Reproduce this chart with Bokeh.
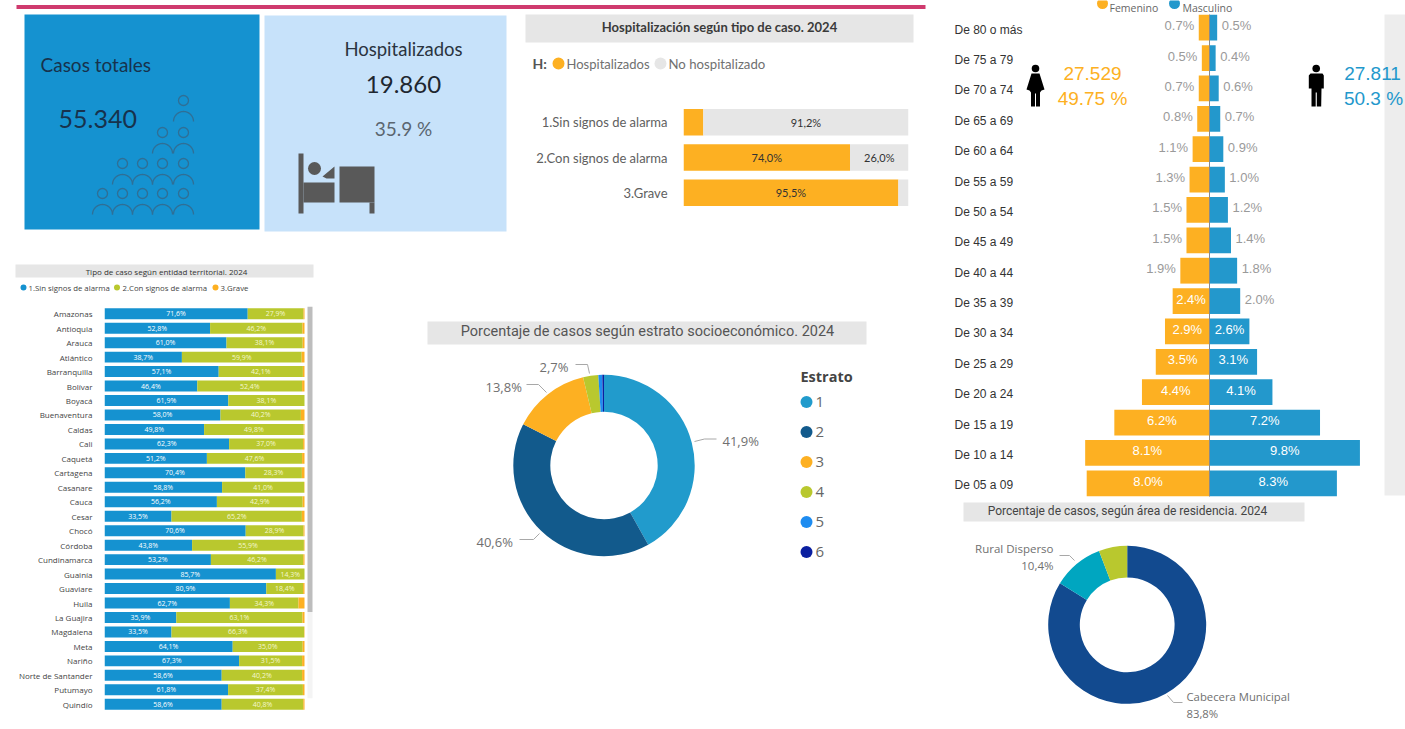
import numpy as np
from bokeh.plotting import figure
from bokeh.layouts import row, column
from bokeh.models import Range1d, FactorRange
from bokeh.core.properties import value
from bokeh.embed import file_html
from bokeh.resources import INLINE

# ---------- data ----------
hosp_cats = ["1.Sin signos de alarma", "2.Con signos de alarma", "3.Grave"]
hosp_yes = [8.8, 74.0, 95.5]
hosp_no = [91.2, 26.0, 4.5]
hosp_yes_lab = ["", "74,0%", "95,5%"]
hosp_no_lab = ["91,2%", "26,0%", ""]

states = ["Amazonas", "Antioquia", "Arauca", "Atlántico", "Barranquilla", "Bolívar", "Boyacá", "Buenaventura",
          "Caldas", "Cali", "Caquetá", "Cartagena", "Casanare", "Cauca", "Cesar", "Chocó", "Córdoba", "Cundinamarca",
          "Guainía", "Guaviare", "Huila", "La Guajira", "Magdalena", "Meta", "Nariño", "Norte de Santander",
          "Putumayo", "Quindío"]
st_sin = [71.6, 52.8, 61.0, 38.7, 57.1, 46.4, 61.9, 58.0, 49.8, 62.3, 51.2, 70.4, 58.8, 56.2, 33.5, 70.6, 43.8, 53.2,
          85.7, 80.9, 62.7, 35.9, 33.5, 64.1, 67.3, 58.6, 61.8, 58.6]
st_con = [27.9, 46.2, 38.1, 59.9, 42.1, 52.4, 38.1, 40.2, 49.8, 37.0, 47.6, 28.3, 41.0, 42.9, 65.2, 28.9, 55.9, 46.2,
          14.3, 18.4, 34.3, 63.1, 66.3, 35.0, 31.5, 40.2, 37.4, 40.8]
st_gra = [0.5, 1.0, 0.9, 1.4, 0.8, 1.2, 0.0, 1.8, 0.4, 0.7, 1.2, 1.3, 0.2, 0.9, 1.3, 0.5, 0.3, 0.6,
          0.0, 0.7, 3.0, 1.0, 0.2, 0.9, 1.2, 1.2, 0.8, 0.6]

estrato_names = ["1", "2", "3", "4", "5", "6"]
estrato_vals = [41.9, 40.6, 13.8, 2.7, 0.7, 0.3]
area_names = ["Cabecera Municipal", "Rural Disperso", "Otro"]
area_vals = [83.8, 10.4, 5.8]

ages = ["De 80 o más", "De 75 a 79", "De 70 a 74", "De 65 a 69", "De 60 a 64", "De 55 a 59", "De 50 a 54", "De 45 a 49",
        "De 40 a 44", "De 35 a 39", "De 30 a 34", "De 25 a 29", "De 20 a 24", "De 15 a 19", "De 10 a 14", "De 05 a 09"]
fem = [0.7, 0.5, 0.7, 0.8, 1.1, 1.3, 1.5, 1.5, 1.9, 2.4, 2.9, 3.5, 4.4, 6.2, 8.1, 8.0]
mas = [0.5, 0.4, 0.6, 0.7, 0.9, 1.0, 1.2, 1.4, 1.8, 2.0, 2.6, 3.1, 4.1, 7.2, 9.8, 8.3]

# ---------- style ----------
ORANGE = "#FDB022"; BLUE = "#1592D0"; LBLUE = "#C7E2FA"; GREEN = "#B9C82E"; GRAY = "#E6E6E6"
PINK = "#CF3A6E"; PYBLUE = "#2398CC"
DIN = "Lato"
OS = "Open Sans"
AR = "Liberation Sans"


def canvas(x0, y0, x1, y1):
    p = figure(width=x1 - x0, height=y1 - y0, x_range=Range1d(x0, x1), y_range=Range1d(y1, y0),
               x_axis_location=None, y_axis_location=None, output_backend="svg", toolbar_location=None,
               min_border=0, outline_line_color=None)
    p.grid.visible = False
    return p


def txt(p, x, y, s, size, color="#555555", font=DIN, align="left", style="normal", **kw):
    p.text(x=[x], y=[y], text=[s], text_font=value(font), text_font_size=f"{size}px", text_color=color,
           text_align=align, text_baseline="middle", text_font_style=style, **kw)


def box(p, l, t, r, b, color, **kw):
    p.quad(left=[l], right=[r], top=[t], bottom=[b], fill_color=color, line_color=None, **kw)


def dot(p, x, y, r, color):
    p.circle(x=[x], y=[y], radius=r, fill_color=color, line_color=None)


def donut(p, cx, cy, R, inner, vals, colors):
    x0, x1 = p.x_range.start, p.x_range.end
    y_top, y_bot = p.y_range.end, p.y_range.start
    p.extra_x_ranges["d"] = Range1d((x0 - cx) / R, (x1 - cx) / R)
    p.extra_y_ranges["d"] = Range1d((cy - y_bot) / R, (cy - y_top) / R)
    cum = np.concatenate([[0], np.cumsum(vals)]) / sum(vals) * 2 * np.pi
    p.annular_wedge(x=0, y=0, inner_radius=inner, outer_radius=1, start_angle=np.pi / 2 - cum[:-1],
                    end_angle=np.pi / 2 - cum[1:], direction="clock", fill_color=colors, line_color=None,
                    x_range_name="d", y_range_name="d")


# ---------- top band ----------
band = canvas(0, 0, 930, 9)
box(band, 16, 1.5, 925, 7, PINK)

# ---------- KPI cards ----------
kpi = canvas(0, 9, 516, 235)
box(kpi, 24, 14, 259, 229, BLUE)
box(kpi, 264, 15, 506, 231, LBLUE)
txt(kpi, 40, 64, "Casos totales", 19, "#17324D")
txt(kpi, 58, 118, "55.340", 25, "#17324D")
txt(kpi, 403, 48, "Hospitalizados", 18.5, "#2A3440", align="center")
txt(kpi, 403, 84, "19.860", 24, "#1E2730", align="center")
txt(kpi, 403, 128, "35.9 %", 19, "#5B6670", align="center")
people = [(183, 100), (162, 132), (183, 132), (122, 163), (142, 163), (162, 163), (183, 163),
          (102, 193), (122, 193), (142, 193), (162, 193), (183, 193)]
t = np.linspace(0, np.pi, 24)
for hx, hy in people:
    kpi.circle(x=[hx], y=[hy], radius=5, fill_color=None, line_color="#2F6F96", line_width=1.3)
    kpi.line(hx + 10 * np.cos(t), hy + 21 - 10 * np.sin(t), line_color="#2F6F96", line_width=1.3)
BED = "#595959"
box(kpi, 298, 153, 303, 213, BED)
box(kpi, 303, 182, 334, 202, BED)
box(kpi, 339, 166, 374, 202, BED)
box(kpi, 369, 202, 374, 213, BED)
dot(kpi, 314, 168, 6.5, BED)
kpi.patch([322, 334, 334, 326], [176, 166, 178, 178], fill_color=BED, line_color=None)

# ---------- hospitalization ----------
hh = canvas(516, 9, 930, 100)
box(hh, 525, 14, 913, 42, GRAY)
txt(hh, 719, 26, "Hospitalización según tipo de caso. 2024", 13, "#3A3A3A", align="center", style="bold")
txt(hh, 532, 63, "H:", 14, "#555555", style="bold")
dot(hh, 558, 63, 6, ORANGE)
txt(hh, 566, 63, "Hospitalizados", 13, "#707070")
dot(hh, 660, 63, 6, GRAY)
txt(hh, 668, 63, "No hospitalizado", 13.2, "#707070")

hc_cats = hosp_cats[::-1]
hc = figure(width=414, height=135, x_range=Range1d(0, 100), y_range=FactorRange(factors=hc_cats),
            x_axis_location=None, output_backend="svg", toolbar_location=None, outline_line_color=None,
            min_border_left=167, min_border_right=22, min_border_top=4, min_border_bottom=25)
hc.grid.visible = False
hc.yaxis.axis_line_color = None
hc.yaxis.major_tick_line_color = None
hc.yaxis.major_label_text_font = DIN
hc.yaxis.major_label_text_font_size = "13px"
hc.yaxis.major_label_text_color = "#606060"
hc.yaxis.major_label_standoff = 10
ye = np.array(hosp_yes); no = np.array(hosp_no)
hc.hbar(y=hosp_cats, left=0, right=ye, height=0.75, fill_color=ORANGE, line_color=None)
hc.hbar(y=hosp_cats, left=ye, right=ye + no, height=0.75, fill_color=GRAY, line_color=None)
hc.text(x=ye / 2, y=hosp_cats, text=hosp_yes_lab, text_font=value(DIN), text_font_size="11px", text_color="#333333",
        text_align="center", text_baseline="middle")
hc.text(x=ye + no / 2, y=hosp_cats, text=hosp_no_lab, text_font=value(DIN), text_font_size="11px", text_color="#333333",
        text_align="center", text_baseline="middle")

# ---------- states ----------
sh = canvas(0, 235, 400, 302)
box(sh, 15, 264, 313, 277, GRAY)
txt(sh, 166, 270.5, "Tipo de caso según entidad territorial. 2024", 8, "#333333", font=OS, align="center")
for cx, tx, lab, col in [(23, 28, "1.Sin signos de alarma", BLUE), (116.5, 122, "2.Con signos de alarma", GREEN),
                         (215, 220, "3.Grave", ORANGE)]:
    dot(sh, cx, 287, 3, col)
    txt(sh, tx, 287, lab, 7.8, "#444444", font=OS)

st_rev = states[::-1]
sc = figure(width=306, height=427, x_range=Range1d(0, 101), y_range=FactorRange(factors=st_rev),
            x_axis_location=None, output_backend="svg", toolbar_location=None, outline_line_color=None,
            min_border_left=104, min_border_right=0, min_border_top=4, min_border_bottom=18)
sc.grid.visible = False
sc.yaxis.axis_line_color = None
sc.yaxis.major_tick_line_color = None
sc.yaxis.major_label_text_font = OS
sc.yaxis.major_label_text_font_size = "8px"
sc.yaxis.major_label_text_color = "#444444"
sc.yaxis.major_label_standoff = 6
a = np.array(st_sin); b = np.array(st_con); c = np.array(st_gra)
sc.hbar(y=states, left=0, right=a, height=0.76, fill_color=BLUE, line_color=None)
sc.hbar(y=states, left=a, right=a + b, height=0.76, fill_color=GREEN, line_color=None)
sc.hbar(y=states, left=a + b, right=a + b + c, height=0.76, fill_color=ORANGE, line_color=None)
sc.text(x=a / 2, y=states, text=[f"{v:.1f}%".replace(".", ",") for v in st_sin], text_font=value(OS),
        text_font_size="7px", text_color="white", text_align="center", text_baseline="middle")
sc.text(x=a + b / 2, y=states, text=[f"{v:.1f}%".replace(".", ",") for v in st_con], text_font=value(OS),
        text_font_size="7px", text_color="#F4F7D0", text_align="center", text_baseline="middle")
sbar = canvas(306, 302, 400, 729)
box(sbar, 307, 302, 312, 624, "#BDBDBD")
box(sbar, 307, 624, 312, 715, "#F4F4F4")

# ---------- estrato donut ----------
ed = canvas(400, 235, 930, 729)
box(ed, 427, 321, 866, 344, GRAY)
txt(ed, 647, 331, "Porcentaje de casos según estrato socioeconómico. 2024", 14.5, "#555555", font="Roboto", align="center")
est_cols = ["#219BCC", "#125A8C", ORANGE, GREEN, "#1E8CF0", "#0A1FA0"]
donut(ed, 603.5, 465, 90.7, 0.592, estrato_vals, est_cols)
LEAD = "#A8A8A8"
for xs, ys in [([694, 704, 716], [441, 438.5, 438.5]), ([539, 533, 519], [533, 539, 539]),
               ([546, 538, 526], [392, 384, 384]), ([589, 587, 575], [373, 364, 364])]:
    ed.line(xs, ys, line_color=LEAD, line_width=1)
for x, y, s in [(722, 440, "41,9%"), (476, 541, "40,6%"), (485, 386, "13,8%"), (539, 366, "2,7%")]:
    txt(ed, x, y, s, 13, "#707070", font=OS)
txt(ed, 800, 376, "Estrato", 14.5, "#444444", font=OS, style="bold")
for i, (nm, col) in enumerate(zip(estrato_names, est_cols)):
    yy = 401.5 + 30 * i
    dot(ed, 806, yy, 6, col)
    txt(ed, 815, yy, nm, 15, "#666666", font=OS)

# ---------- pyramid ----------
py = canvas(930, 0, 1405, 498)
py.extra_x_ranges["v"] = Range1d((930 - 1209) / 15.35, (1405 - 1209) / 15.35)
py.extra_y_ranges["r"] = Range1d(len(ages) - 0.5, -0.5 - 12 / 30.375)
rows = np.arange(len(ages))
dot(py, 1102, 3, 5.5, ORANGE)
txt(py, 1109, 7, "Femenino", 10.5, "#666666", font=OS)
dot(py, 1174, 3, 5.5, PYBLUE)
txt(py, 1182, 7, "Masculino", 10.5, "#666666", font=OS)
box(py, 1384, 14, 1405, 495, "#EDEDED")
f = np.array(fem); m = np.array(mas)
py.hbar(y=rows, left=-f, right=0, height=0.85, fill_color=ORANGE, line_color=None, x_range_name="v", y_range_name="r")
py.hbar(y=rows, left=0, right=m, height=0.85, fill_color=PYBLUE, line_color=None, x_range_name="v", y_range_name="r")
py.line([1209, 1209], [14, 496], line_color="#8A8A8A", line_width=1)
py.text(x=[954] * len(ages), y=rows, text=ages, text_font=value(AR), text_font_size="12px", text_color="#333333",
        text_align="left", text_baseline="middle", y_offset=2, y_range_name="r")
for vals, sgn, thr in [(fem, -1, 2.4), (mas, 1, 2.6)]:
    for r, v in zip(rows, vals):
        lab = f"{v:.1f}%"
        if v >= thr:
            py.text(x=[sgn * v / 2], y=[r], text=[lab], text_font=value(AR), text_font_size="13px",
                    text_color="white", text_align="center", text_baseline="middle", y_offset=-2,
                    x_range_name="v", y_range_name="r")
        else:
            py.text(x=[sgn * v], y=[r], text=[lab], text_font=value(AR), text_font_size="13px",
                    text_color="#9A9A9A", text_align="right" if sgn < 0 else "left", text_baseline="middle",
                    y_offset=-2, x_offset=sgn * 4.5, x_range_name="v", y_range_name="r")
for x, y, s, col in [(1092, 73, "27.529", ORANGE), (1092, 98, "49.75 %", ORANGE),
                     (1372, 73, "27.811", PYBLUE), (1373, 98, "50.3 %", PYBLUE)]:
    txt(py, x, y, s, 19, col, font=AR, align="center")
dot(py, 1035, 68, 3.8, "black")
py.patch([1031, 1039, 1044, 1041, 1039.5, 1039.5, 1035.5, 1035.5, 1034.5, 1034.5, 1030.5, 1030.5, 1029, 1026],
         [73, 73, 89, 90, 92, 106, 106, 93, 93, 106, 106, 92, 90, 89], fill_color="black", line_color=None)
dot(py, 1315.7, 68, 3.8, "black")
py.patch([1310, 1322, 1323.3, 1323.3, 1321, 1320.7, 1316.3, 1316.3, 1315.2, 1315.2, 1311, 1311, 1308.3, 1308.3],
         [73, 73, 75, 88, 88, 106, 106, 92, 92, 106, 106, 88, 88, 75], fill_color="black", line_color=None)

# ---------- area donut ----------
ad = canvas(930, 498, 1405, 729)
box(ad, 963, 502, 1304, 521, GRAY)
txt(ad, 1127, 510, "Porcentaje de casos, según área de residencia. 2024", 12, "#444444", font="Roboto", align="center")
donut(ad, 1126.7, 624.3, 79, 0.6, area_vals, ["#124A8F", "#00A6C0", GREEN])
ad.line([1074, 1069, 1059], [560, 555, 555], line_color=LEAD, line_width=1)
ad.line([1167, 1173, 1182], [695, 702, 702], line_color=LEAD, line_width=1)
txt(ad, 1053, 548, "Rural Disperso", 11.5, "#707070", font=OS, align="right")
txt(ad, 1053, 565, "10,4%", 11.5, "#707070", font=OS, align="right")
txt(ad, 1186, 696, "Cabecera Municipal", 11.3, "#707070", font=OS)
txt(ad, 1186, 713, "83,8%", 11.3, "#707070", font=OS)

# ---------- layout ----------
left = column(band, row(kpi, column(hh, row(hc, spacing=0), spacing=0), spacing=0),
              row(column(sh, row(sc, sbar, spacing=0), spacing=0), ed, spacing=0), spacing=0)
right = column(py, ad, spacing=0)
page = row(left, right, spacing=0)

open("out.html", "w").write(file_html(page, INLINE))
